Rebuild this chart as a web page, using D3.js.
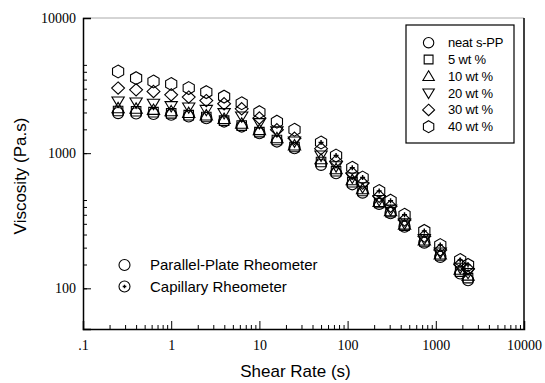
<!DOCTYPE html>
<html>
<head>
<meta charset="utf-8">
<script src="https://cdn.jsdelivr.net/npm/d3@7"></script>
<style>
body{margin:0;background:#fff;}
svg{display:block;}
.axis path,.axis line{stroke:#000;}
.axis text{font-family:"Liberation Serif","Times New Roman",serif;font-size:14px;fill:#000;}
.lbl{font-family:"Liberation Sans",Arial,sans-serif;fill:#000;}
</style>
</head>
<body>
<svg id="chart" width="545" height="383"></svg>
<script>
'use strict';

// shear rates (1/s)
var ppRate=[0.25,0.4,0.63,1,1.58,2.5,3.98,6.3,10,15.8,25];
var capRate=[50,74,113,148,228,307,442,741,1124,1890,2320];

var seriesNames=['neat s-PP','5 wt %','10 wt %','20 wt %','30 wt %','40 wt %'];
var seriesShapes=['circle','square','triUp','triDown','diamond','hexagon'];

// parallel-plate viscosity (Pa.s)
var ppNeat=[1980,1970,1950,1925,1870,1815,1715,1575,1405,1220,1090];
var pp5=[2050,2040,2010,1970,1910,1850,1740,1600,1430,1250,1110];
var pp10=[2150,2130,2090,2040,1980,1900,1790,1650,1480,1290,1140];
var pp20=[2410,2370,2320,2230,2180,2090,1980,1870,1670,1450,1220];
var pp30=[3030,2940,2860,2700,2600,2450,2320,2130,1820,1490,1290];
var pp40=[4020,3590,3390,3250,3030,2830,2620,2340,2010,1710,1490];

// capillary viscosity (Pa.s)
var capNeat=[820,711,589,511,421,360,286,218,171,129,115];
var cap5=[860,735,610,525,428,366,291,222,175,133,119];
var cap10=[900,760,630,540,435,372,296,226,178,137,124];
var cap20=[960,800,660,560,450,382,303,232,184,142,130];
var cap30=[1080,870,710,600,480,405,320,243,192,150,139];
var cap40=[1200,960,780,660,525,445,350,266,209,162,149];

var xMajor=[0.1,1,10,100,1000,10000];
var xLabels=['.1','1','10','100','1000','10000'];
var yMajor=[100,1000,10000];
var yLabels=['100','1000','10000'];

var ppSets=[ppNeat,pp5,pp10,pp20,pp30,pp40];
var capSets=[capNeat,cap5,cap10,cap20,cap30,cap40];

var W=545,H=383
  , m={top:18,right:21,bottom:54,left:83}
  , w=W-m.left-m.right
  , h=H-m.top-m.bottom;

var svg=d3.select('#chart');
var g=svg.append('g').attr('transform','translate('+m.left+','+m.top+')');

var x=d3.scaleLog().domain([0.1,10000]).range([0,w]);
var y=d3.scaleLog().domain([50,10000]).range([h,0]);

function minors(lo,hi){
    var out=[];
    for(var p=lo;p<hi;p*=10){
        for(var k=2;k<10;k++){ out.push(+(p*k).toPrecision(3)); }
    }
    return out;
}

// frame: faint top, solid right
g.append('line').attr('x1',0).attr('x2',w).attr('y1',0).attr('y2',0)
    .attr('stroke','#aaa').attr('stroke-width',1);
g.append('line').attr('x1',w).attr('x2',w).attr('y1',0).attr('y2',h)
    .attr('stroke','#000').attr('stroke-width',1.5);

g.append('g').attr('class','axis').attr('transform','translate(0,'+h+')')
    .call(d3.axisBottom(x).tickValues(xMajor).tickSize(-8).tickPadding(11)
        .tickFormat(function(d,i){return xLabels[i];}));
g.append('g').attr('class','axis').attr('transform','translate(0,'+h+')')
    .call(d3.axisBottom(x).tickValues(minors(0.1,10000)).tickSize(-4).tickFormat(''))
    .select('.domain').remove();

g.append('g').attr('class','axis')
    .call(d3.axisLeft(y).tickValues(yMajor).tickSize(-8).tickPadding(7)
        .tickFormat(function(d,i){return yLabels[i];}));
g.append('g').attr('class','axis')
    .call(d3.axisLeft(y).tickValues(minors(50,10000).filter(function(v){return v>=60;})).tickSize(-4).tickFormat(''))
    .select('.domain').remove();

g.selectAll('.axis .domain').attr('stroke-width',1.5);
g.selectAll('.axis line').attr('stroke-width',1);

// marker shapes, r ~ half size
function shape(type,r){
    if(type=='circle') return d3.symbol(d3.symbolCircle,Math.PI*r*r)();
    var pts;
    if(type=='square') pts=[[-r*0.85,-r*0.85],[r*0.85,-r*0.85],[r*0.85,r*0.85],[-r*0.85,r*0.85]];
    else if(type=='triUp') pts=[[0,-r*1.05],[r*1.1,r*0.8],[-r*1.1,r*0.8]];
    else if(type=='triDown') pts=[[0,r*1.05],[r*1.1,-r*0.8],[-r*1.1,-r*0.8]];
    else if(type=='diamond') pts=[[0,-r*1.1],[r*1.15,0],[0,r*1.1],[-r*1.15,0]];
    else pts=d3.range(6).map(function(i){
        var a=Math.PI/3*i;
        return [Math.sin(a)*r*1.15,-Math.cos(a)*r*1.15];
    });
    return 'M'+pts.map(function(p){return p.join(',');}).join('L')+'Z';
}

var R=5.6;

function plotSet(rates,vals,type,plus){
    var pts=rates.map(function(r,i){return {x:r,y:vals[i]};});
    var sel=g.append('g').selectAll('g').data(pts).enter().append('g')
        .attr('transform',function(d){return 'translate('+x(d.x)+','+y(d.y)+')';});
    sel.append('path').attr('d',shape(type,R))
        .attr('fill','none').attr('stroke','#000').attr('stroke-width',1.1);
    if(plus){
        sel.append('path').attr('d','M-2.5,0H2.5M0,-2.5V2.5')
            .attr('stroke','#000').attr('stroke-width',1.4);
    }
}

seriesShapes.forEach(function(s,i){
    plotSet(ppRate,ppSets[i],s,false);
});
seriesShapes.forEach(function(s,i){
    plotSet(capRate,capSets[i],s,i==seriesShapes.length-1);
});

// series legend
var lg=svg.append('g').attr('transform','translate(406,25)');
lg.append('rect').attr('width',108).attr('height',118)
    .attr('fill','#fff').attr('stroke','#000').attr('stroke-width',1.2);
seriesNames.forEach(function(n,i){
    var row=lg.append('g').attr('transform','translate(0,'+(17.7+i*16.8)+')');
    row.append('path').attr('transform','translate(22.6,0)').attr('d',shape(seriesShapes[i],5.2))
        .attr('fill','none').attr('stroke','#000').attr('stroke-width',1.1);
    row.append('text').attr('class','lbl').attr('x',42).attr('dy','0.35em')
        .style('font-size','13px').style('letter-spacing','-0.2px').text(n);
});

// rheometer legend
var rl=svg.append('g').attr('transform','translate(124.5,265)');
rl.append('circle').attr('r',5.5).attr('fill','none').attr('stroke','#000').attr('stroke-width',1.1);
rl.append('text').attr('class','lbl').attr('x',25.5).attr('dy','0.35em')
    .style('font-size','15px').text('Parallel-Plate Rheometer');
var rl2=svg.append('g').attr('transform','translate(124.5,286.5)');
rl2.append('circle').attr('r',5.5).attr('fill','none').attr('stroke','#000').attr('stroke-width',1.1);
rl2.append('path').attr('d','M-1.8,0H1.8M0,-1.8V1.8').attr('stroke','#000').attr('stroke-width',1.3);
rl2.append('text').attr('class','lbl').attr('x',25.5).attr('dy','0.35em')
    .style('font-size','15px').text('Capillary Rheometer');

// axis titles
svg.append('text').attr('class','lbl').attr('x',m.left+w/2-8).attr('y',377)
    .attr('text-anchor','middle').style('font-size','17px').text('Shear Rate (s)');
svg.append('text').attr('class','lbl')
    .attr('transform','translate(26,176) rotate(-90)')
    .attr('text-anchor','middle').style('font-size','17px').text('Viscosity (Pa.s)');
</script>
</body>
</html>
